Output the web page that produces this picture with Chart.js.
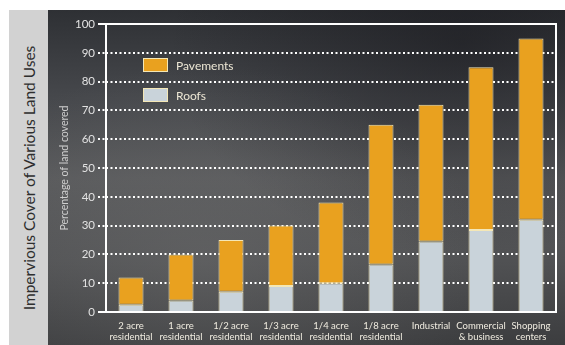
<!DOCTYPE html>
<html>
<head>
<meta charset="utf-8">
<script src="https://cdn.jsdelivr.net/npm/chart.js@4"></script>
<style>
  body { margin: 0; background: #fff; }
  #wrap { position: relative; width: 565px; height: 345px; overflow: hidden; background: #fff; }
  #side { position: absolute; left: 9px; top: 10px; width: 39px; height: 335px; background: #d2d2d2; }
  #side span {
    position: absolute; left: 50%; top: 50%;
    transform: translate(-50%, -50%) rotate(-90deg);
    white-space: nowrap; font-family: Lato, sans-serif; font-size: 15.5px; color: #2e2e2e;
  }
  #bg {
    position: absolute; left: 48px; top: 10px; width: 517px; height: 335px;
    background:
      radial-gradient(ellipse at 30% 75%, rgba(120,120,120,0.35), rgba(0,0,0,0) 55%),
      radial-gradient(ellipse at 80% 10%, rgba(20,20,25,0.5), rgba(0,0,0,0) 50%),
      linear-gradient(to bottom, #2e3034 0%, #45474b 25%, #58595b 50%, #505153 75%, #3c3d3f 100%);
  }
  #legend { position: absolute; left: 143px; top: 58px; font-family: Lato, sans-serif; font-size: 12px; color: #ece6d4; }
  .item { display: flex; align-items: center; height: 14px; margin-bottom: 16px; }
  .box { width: 23px; height: 12px; border: 1px solid #f4e7b6; margin-right: 8px; }
</style>
</head>
<body>
<div id="wrap">
  <div id="side"><span>Impervious Cover of Various Land Uses</span></div>
  <div id="bg"><canvas id="chart" width="517" height="335"></canvas></div>
  <div id="legend"></div>
</div>
<script>
// Land use categories (two-line labels)
const categories = [
  ['2 acre', 'residential'],
  ['1 acre', 'residential'],
  ['1/2 acre', 'residential'],
  ['1/3 acre', 'residential'],
  ['1/4 acre', 'residential'],
  ['1/8 acre', 'residential'],
  'Industrial',
  ['Commercial', '& business'],
  ['Shopping', 'centers']
];

// Percentage of land covered
const roofs = [2.5, 4, 7, 9, 10, 16.5, 24.5, 28.5, 32];
const totals = [12, 20, 25, 30, 38, 65, 72, 85, 95];
const pavements = totals.map((t, i) => t - roofs[i]);

const yTicks = [0, 10, 20, 30, 40, 50, 60, 70, 80, 90, 100];

const paveColor = '#e9a11f';
const roofColor = '#c9d3da';
const edge = '#f4e7b6';

// Simple HTML legend, pavements on top
const legend = document.getElementById('legend');
[['Pavements', paveColor], ['Roofs', roofColor]].forEach(([name, col]) => {
  const div = document.createElement('div');
  div.className = 'item';
  div.innerHTML = '<div class="box" style="background:' + col + '"></div>' + name;
  legend.appendChild(div);
});

// Solid white frame around the plot area
const framePlugin = {
  id: 'frame',
  beforeDatasetsDraw(chart) {
    const { ctx, chartArea: a } = chart;
    ctx.save();
    ctx.strokeStyle = '#ffffff';
    ctx.lineWidth = 2;
    ctx.beginPath();
    ctx.moveTo(a.left - 8, a.top);
    ctx.lineTo(a.right, a.top);
    ctx.lineTo(a.right, a.bottom);
    ctx.lineTo(a.left - 8, a.bottom);
    ctx.moveTo(a.left, a.top);
    ctx.lineTo(a.left, a.bottom);
    ctx.stroke();
    ctx.restore();
  }
};

const ctx = document.getElementById('chart').getContext('2d');
new Chart(ctx, {
  type: 'bar',
  data: {
    labels: categories,
    datasets: [
      {
        label: 'Roofs',
        data: roofs,
        backgroundColor: roofColor,
        borderColor: edge,
        borderWidth: 1,
        borderSkipped: 'bottom'
      },
      {
        label: 'Pavements',
        data: pavements,
        backgroundColor: paveColor,
        borderColor: edge,
        borderWidth: 1,
        borderSkipped: false
      }
    ]
  },
  options: {
    responsive: false,
    animation: false,
    layout: { padding: { top: 14, right: 9, left: 0, bottom: 0 } },
    plugins: {
      legend: { display: false },
      tooltip: { enabled: false }
    },
    datasets: {
      bar: { barPercentage: 0.5, categoryPercentage: 1 }
    },
    scales: {
      x: {
        stacked: true,
        grid: { display: false },
        border: { display: false },
        ticks: {
          color: '#f0ece0',
          font: { family: 'Lato', size: 9.5, lineHeight: 1.2 },
          padding: 0,
          maxRotation: 0,
          autoSkip: false
        },
        afterFit: s => { s.height = 33; }
      },
      y: {
        stacked: true,
        min: 0,
        max: 100,
        afterBuildTicks: s => { s.ticks = yTicks.map(v => ({ value: v })); },
        grid: {
          color: '#ffffff',
          lineWidth: 2,
          tickLength: 8,
          tickBorderDash: [2, 2.5]
        },
        border: { display: false, dash: [2, 2.5] },
        ticks: {
          color: '#e2e2e2',
          font: { family: 'Lato', size: 11.5 },
          padding: 3
        },
        title: {
          display: true,
          text: 'Percentage of land covered',
          color: '#cfcfcf',
          font: { family: 'Lato', size: 10.5 },
          padding: { top: 10, bottom: 0 }
        },
        afterFit: s => { s.width = 58; }
      }
    }
  },
  plugins: [framePlugin]
});
</script>
</body>
</html>
